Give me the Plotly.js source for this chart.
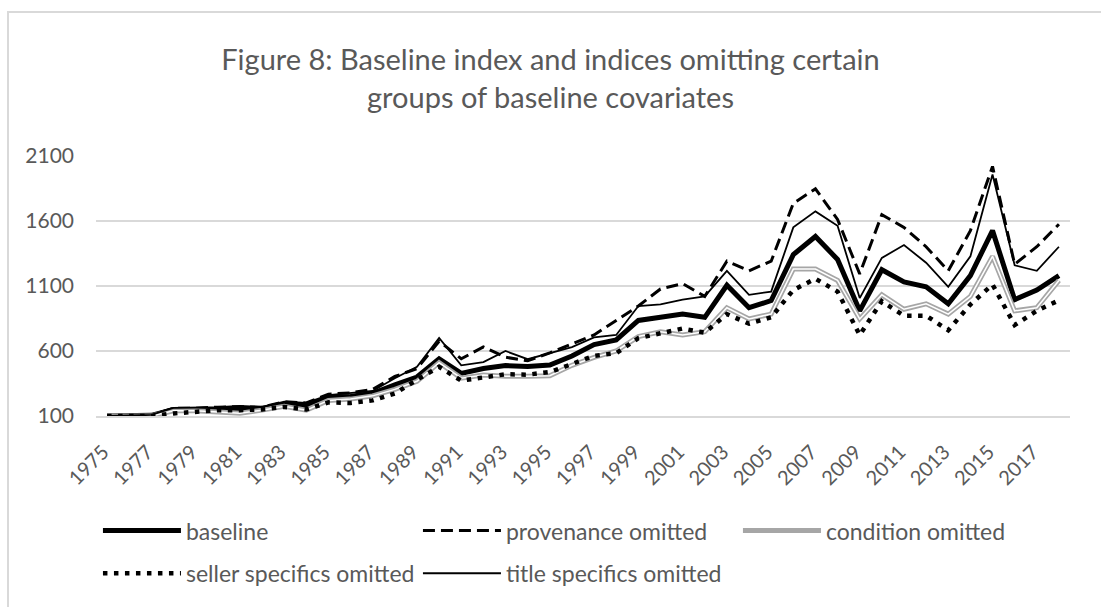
<!DOCTYPE html>
<html>
<head>
<meta charset="utf-8">
<script src="https://cdn.plot.ly/plotly-3.0.1.min.js"></script>
<style>
  html, body { margin: 0; padding: 0; background: #ffffff; }
  #wrap { position: relative; width: 1101px; height: 607px; overflow: hidden; }
  #chart { position: absolute; left: 0; top: 0; width: 1101px; height: 607px; }
  #frame { position: absolute; left: 7px; top: 11px; width: 1300px; height: 800px;
           border: 2px solid #d9d9d9; pointer-events: none; }
</style>
</head>
<body>
<div id="wrap">
  <div id="chart"></div>
  <div id="frame"></div>
</div>
<script>
const years = ['1975','1976','1977','1978','1979','1980','1981','1982','1983','1984',
  '1985','1986','1987','1988','1989','1990','1991','1992','1993','1994',
  '1995','1996','1997','1998','1999','2000','2001','2002','2003','2004',
  '2005','2006','2007','2008','2009','2010','2011','2012','2013','2014',
  '2015','2016','2017','2018'];

const tickYears = ['1975','1977','1979','1981','1983','1985','1987','1989','1991','1993',
  '1995','1997','1999','2001','2003','2005','2007','2009','2011','2013','2015','2017'];

const yTicks = [100, 600, 1100, 1600, 2100];

const baseline = [100,100,105,150,150,155,150,160,190,180,
  240,250,275,340,400,540,428,465,488,480,
  492,562,649,686,835,859,884,859,1106,933,
  988,1341,1481,1304,909,1225,1131,1094,963,1180,
  1526,995,1069,1180];

const provenanceOmitted = [100,102,108,160,160,168,172,168,210,200,
  268,278,305,404,465,675,540,631,552,525,
  586,655,723,835,946,1077,1118,1020,1291,1217,
  1291,1736,1847,1612,1193,1649,1551,1402,1217,1526,
  2020,1267,1402,1575];

const conditionOmitted = [100,98,100,140,140,130,122,145,175,145,
  220,230,255,305,367,510,391,416,405,405,
  410,490,551,600,711,748,723,748,933,847,
  884,1230,1230,1143,847,1032,921,963,884,1020,
  1328,909,933,1143];

const sellerOmitted = [100,100,100,120,132,144,145,150,170,150,
  205,200,220,273,379,478,372,395,421,418,
  438,500,563,583,699,736,773,741,884,810,
  859,1069,1156,1057,723,983,872,872,760,958,
  1111,800,909,990];

const titleOmitted = [100,102,108,162,164,169,177,169,211,201,
  260,275,293,391,478,700,490,515,600,537,
  586,630,704,723,946,958,995,1020,1217,1032,
  1057,1551,1674,1563,1007,1316,1415,1279,1094,1328,
  1958,1259,1217,1402];

const textColor = '#595959';
const fontFam = 'Lato, "Open Sans", sans-serif';

const traces = [
  { x: years, y: baseline, name: 'baseline', type: 'scatter', mode: 'lines',
    line: { color: '#000000', width: 5 }, legend: 'legend' },
  { x: years, y: provenanceOmitted, name: 'provenance omitted', type: 'scatter', mode: 'lines',
    line: { color: '#000000', width: 3, dash: '12px,6px' }, legend: 'legend' },
  { x: years, y: conditionOmitted, name: 'condition omitted', type: 'scatter', mode: 'lines',
    line: { color: '#a6a6a6', width: 5 }, legend: 'legend' },
  { x: years, y: conditionOmitted, name: 'condition omitted', type: 'scatter', mode: 'lines',
    line: { color: '#ffffff', width: 1.5 }, showlegend: false, hoverinfo: 'skip', legend: 'legend' },
  { x: years, y: sellerOmitted, name: 'seller specifics omitted', type: 'scatter', mode: 'lines',
    line: { color: '#000000', width: 4.5, dash: '4.5px,6.5px' }, legend: 'legend2' },
  { x: years, y: titleOmitted, name: 'title specifics omitted', type: 'scatter', mode: 'lines',
    line: { color: '#000000', width: 1.8 }, legend: 'legend2' }
];

const legendCommon = {
  orientation: 'h', xref: 'paper', yref: 'paper', xanchor: 'left', yanchor: 'middle',
  font: { family: fontFam, size: 23, color: textColor },
  bgcolor: 'rgba(0,0,0,0)', borderwidth: 0,
  itemwidth: 78, entrywidthmode: 'pixels', entrywidth: 227,
  traceorder: 'normal'
};

const layout = {
  width: 1101, height: 607,
  margin: { l: 96, r: 31, t: 156, b: 181 },
  paper_bgcolor: 'rgba(0,0,0,0)', plot_bgcolor: '#ffffff',
  title: {
    text: 'Figure 8: Baseline index and indices omitting certain<br>groups of baseline covariates',
    font: { family: fontFam, size: 29, color: textColor },
    x: 0.5, xref: 'container', xanchor: 'center',
    y: 1 - 70 / 607, yref: 'container', yanchor: 'top'
  },
  xaxis: {
    type: 'category', categoryorder: 'array', categoryarray: years,
    range: [-0.5, years.length - 0.5],
    tickmode: 'array', tickvals: tickYears, ticktext: tickYears,
    tickangle: -45, ticks: '', ticklen: 0, showgrid: false,
    ticklabelstandoff: 15, ticklabelshift: -4,
    showline: true, linecolor: '#d9d9d9', linewidth: 1.5,
    tickfont: { family: fontFam, size: 20, color: textColor },
    fixedrange: true
  },
  yaxis: {
    range: [100, 2100], tickmode: 'array', tickvals: yTicks,
    ticktext: yTicks.map(String),
    showgrid: true, gridcolor: '#d9d9d9', gridwidth: 1.5,
    zeroline: false, showline: false, ticks: '', ticklen: 0,
    ticklabelstandoff: 21,
    tickfont: { family: fontFam, size: 21, color: textColor },
    fixedrange: true
  },
  legend: Object.assign({}, legendCommon, { x: 0.002, y: -0.441 }),
  legend2: Object.assign({}, legendCommon, { x: 0.002, y: -0.605 }),
  showlegend: true
};

Plotly.newPlot('chart', traces, layout, { displayModeBar: false, staticPlot: true });
</script>
</body>
</html>
